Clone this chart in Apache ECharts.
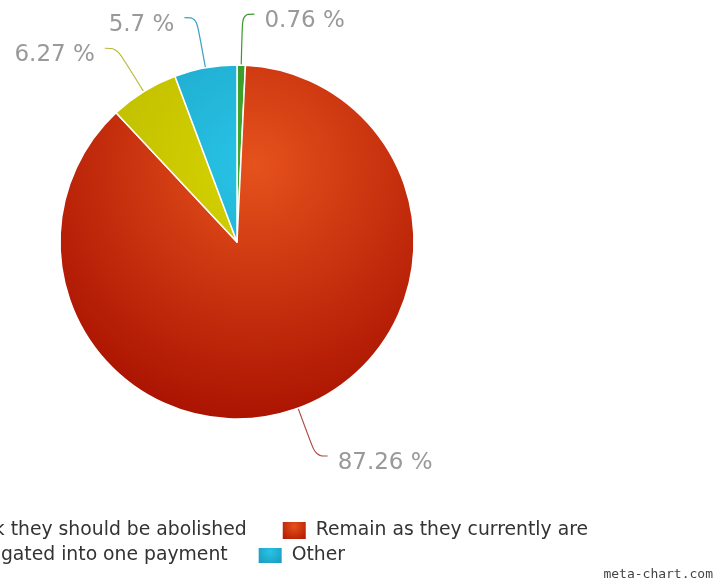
<!DOCTYPE html>
<html>
<head>
<meta charset="utf-8">
<script src="https://cdn.jsdelivr.net/npm/echarts@6/dist/echarts.min.js"></script>
<style>html,body{margin:0;padding:0;background:#fff}#c{width:717px;height:584px}</style>
</head>
<body>
<div id="c"></div>
<script>
var categories = ["I think they should be abolished", "Remain as they currently are", "Aggregated into one payment", "Other"];
var values = [0.76, 87.26, 6.27, 5.7];
var innerColors = ["#45a832", "#e6521c", "#d6d400", "#28c4e6"];
var outerColors = ["#2f8a22", "#a81000", "#b4b000", "#1896bc"];
var lineColors = ["#3a9a28", "#b04a40", "#b8b840", "#3aa4c4"];

function grad(i, global) {
  if (global) {
    return {type: 'radial', x: 255, y: 165, r: 270, global: true,
      colorStops: [{offset: 0, color: innerColors[i]}, {offset: 1, color: outerColors[i]}]};
  }
  return {type: 'radial', x: 0.5, y: 0.3, r: 0.9,
    colorStops: [{offset: 0, color: innerColors[i]}, {offset: 1, color: outerColors[i]}]};
}

var data = categories.map(function (n, i) {
  return {
    name: n, value: values[i],
    itemStyle: {color: grad(i, true)},
    labelLine: {lineStyle: {color: lineColors[i]}}
  };
});

function legendData(idx) {
  return idx.map(function (i) { return {name: categories[i], itemStyle: {color: grad(i, false)}}; });
}

var chart = echarts.init(document.getElementById('c'));
chart.setOption({
  backgroundColor: '#fff',
  animation: false,
  title: {
    text: 'meta-chart.com', right: 4, bottom: 3, padding: 0,
    textStyle: {fontFamily: 'DejaVu Sans Mono', fontSize: 13, color: '#444', fontWeight: 'normal'}
  },
  legend: [
    {
      data: legendData([0, 1]), right: 129, top: 520, width: 2000, padding: 0, itemGap: 34,
      itemWidth: 25, itemHeight: 19, icon: 'rect', orient: 'horizontal',
      textStyle: {fontFamily: 'DejaVu Sans', fontSize: 18.8, color: '#333', padding: [0, 0, 0, 4]}
    },
    {
      data: legendData([2, 3]), right: 372, top: 546, width: 2000, padding: 0, itemGap: 29,
      itemWidth: 25, itemHeight: 17, icon: 'rect', orient: 'horizontal',
      textStyle: {fontFamily: 'DejaVu Sans', fontSize: 18.8, color: '#333', padding: [0, 0, 0, 4]}
    }
  ],
  series: [{
    type: 'pie',
    center: [237, 242],
    radius: 177,
    startAngle: 90,
    clockwise: true,
    avoidLabelOverlap: true,
    data: data,
    itemStyle: {borderColor: '#fff', borderWidth: 1.5},
    label: {
      formatter: function (p) { return p.value + ' %'; },
      color: '#999', fontSize: 23, fontFamily: 'DejaVu Sans',
      distanceToLabelLine: 10
    },
    labelLayout: {dy: 7},
    labelLine: {length: 51, length2: 12, smooth: 0.4, lineStyle: {width: 1.2}},
    emphasis: {scale: false}
  }]
});
</script>
</body>
</html>
